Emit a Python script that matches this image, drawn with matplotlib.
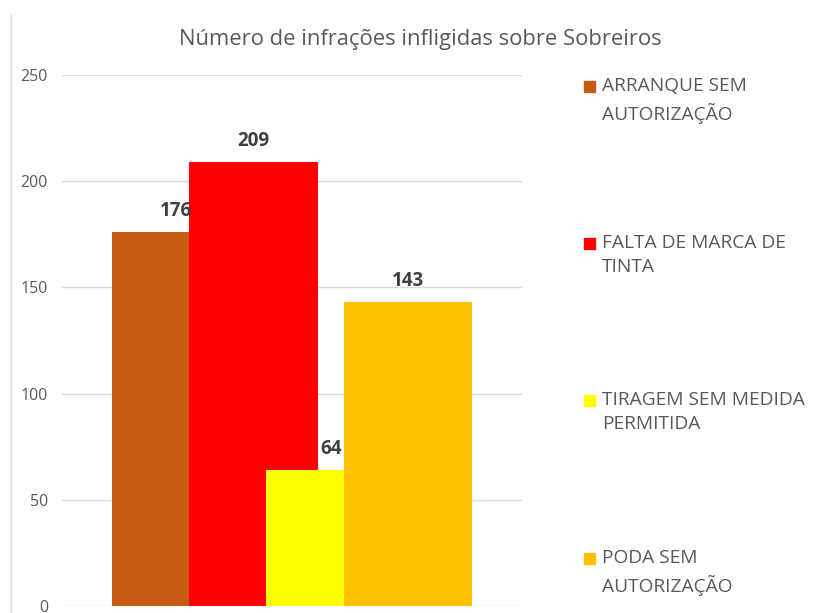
import matplotlib.pyplot as plt
from matplotlib.patches import Rectangle
from matplotlib.lines import Line2D

plt.rcParams['font.family'] = ['Open Sans', 'DejaVu Sans']

# dados
series = ['ARRANQUE SEM\nAUTORIZAÇÃO', 'FALTA DE MARCA DE\nTINTA',
          'TIRAGEM SEM MEDIDA\nPERMITIDA', 'PODA SEM\nAUTORIZAÇÃO']
values = [176, 209, 64, 143]
colors = ['#C55A11', '#FF0000', '#FFFF00', '#FFC000']
yticks = [0, 50, 100, 150, 200, 250]

W, H = 815, 613
fig = plt.figure(figsize=(W / 100, H / 100), dpi=100)
ax = fig.add_axes([62 / W, 1 - 606 / H, (522 - 62) / W, (606 - 75) / H])

width = 0.28
overlap = 0.4
step = width * (1 - overlap)
n = len(values)
for i, (v, c) in enumerate(zip(values, colors)):
    x = (i - (n - 1) / 2) * step
    ax.bar(x, v, width=width, color=c, zorder=2 + i)
    ax.annotate(str(v), (x, v), xytext=(0, 15), textcoords='offset points',
                ha='center', va='center', fontsize=13.5, fontweight='bold',
                color='#404040', zorder=10)

ax.set_xlim(-0.5, 0.5)
ax.set_ylim(0, 250)
ax.set_yticks(yticks)
ax.set_xticks([])
ax.tick_params(axis='y', length=0, pad=10, labelsize=11.5, labelcolor='#595959')
ax.grid(axis='y', color='#D9D9D9', linewidth=1, zorder=0)
for s in ax.spines.values():
    s.set_visible(False)

fig.text(420 / W, 1 - 40 / H, 'Número de infrações infligidas sobre Sobreiros',
         ha='center', va='center', fontsize=15.8, color='#595959')

# legenda manual
leg_y = [86, 243, 400, 558]
for name, c, y in zip(series, colors, leg_y):
    fig.patches.append(Rectangle((584 / W, 1 - (y + 5.5) / H), 11 / W, 11 / H,
                                 color=c, transform=fig.transFigure))
    fig.text(602 / W, 1 - (y - 9) / H, name, ha='left', va='top',
             fontsize=13.8, color='#595959', linespacing=1.45)

fig.add_artist(Line2D([11 / W, 11 / W], [0, 1 - 14 / H], color='#D9D9D9',
                      linewidth=1, transform=fig.transFigure))

fig.savefig('out.png', dpi=100)
